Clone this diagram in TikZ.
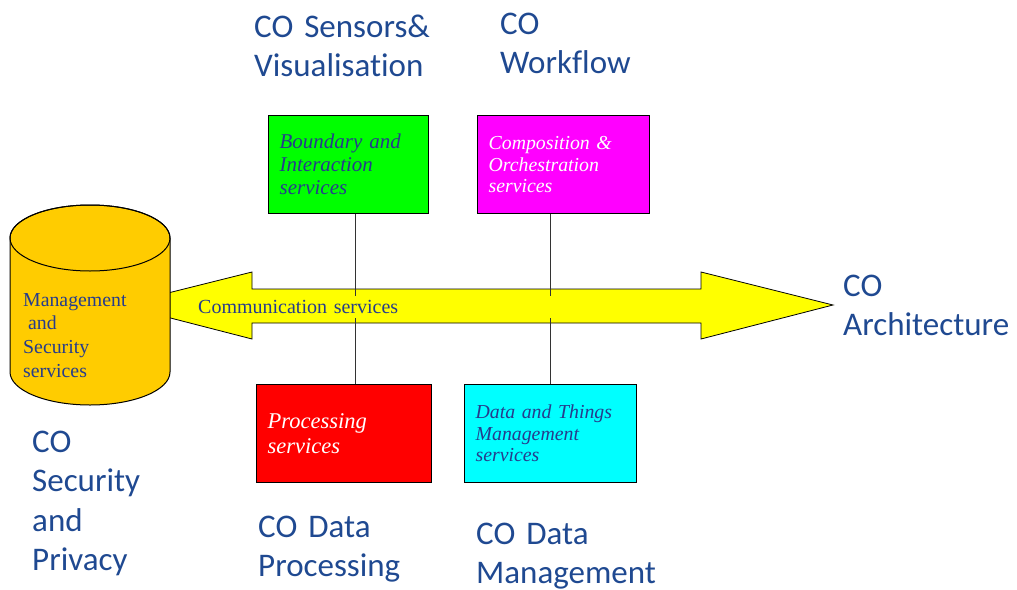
\documentclass[tikz,border=0pt]{standalone}
\usepackage{fontspec}
\setmainfont{Liberation Serif}
\newfontfamily\labelfont[Ligatures={NoCommon}, WordSpace=0.7]{Carlito}
\definecolor{labelblue}{RGB}{31,73,145}
\definecolor{inkblue}{RGB}{38,60,140}
\definecolor{goldfill}{RGB}{255,204,0}
\definecolor{arrowyellow}{RGB}{255,255,0}
\definecolor{boxgreen}{RGB}{0,255,0}
\definecolor{boxmagenta}{RGB}{255,0,255}
\definecolor{boxred}{RGB}{255,0,0}
\definecolor{boxcyan}{RGB}{0,255,255}
\begin{document}
\begin{tikzpicture}[x=1pt,y=-1pt,
  svcbox/.style={draw=black, line width=1.3pt, inner xsep=11pt, inner ysep=0pt,
    minimum height=98pt, align=left, anchor=north west},
  title/.style={anchor=base west, inner sep=0pt, text width=300pt, align=left,
    text=labelblue, font=\labelfont\fontsize{33}{39.5}\selectfont},
  link/.style={draw=black!80, line width=1.1pt}]
\useasboundingbox (0,0) rectangle (1017,589);

% communication bus: double-headed arrow
\draw[fill=arrowyellow, line width=0.8pt, line join=miter]
  (120,305) -- (252,272) -- (252,289) -- (701,289) -- (701,272) -- (833,305)
  -- (701,339) -- (701,323) -- (252,323) -- (252,339) -- cycle;

% service boxes
\node[svcbox, fill=boxgreen, text=inkblue, text width=138pt,
  font=\itshape\fontsize{21}{23}\selectfont] (bound) at (268,115)
  {Boundary and\\Interaction\\services};
\node[svcbox, fill=boxmagenta, text=white, text width=150pt,
  font=\itshape\fontsize{19.8}{21.5}\selectfont] (compo) at (477,115)
  {Composition \&\\Orchestration\\services};
\node[svcbox, fill=boxred, text=white, text width=153pt,
  font=\itshape\fontsize{22.5}{25}\selectfont] (proc) at (256,384)
  {Processing\\services};
\node[svcbox, fill=boxcyan, text=inkblue, text width=150pt,
  font=\itshape\fontsize{19.8}{21.5}\selectfont] (data) at (464,384)
  {Data and Things\\Management\\services};

% vertical links through the bus
\draw[link] ([xshift=7pt]bound.south) -- ([xshift=7pt]bound.south |- proc.north);
\draw[link] (data.north) -- (data.north |- compo.south);

% bus label on its own yellow band
\node[fill=arrowyellow, inner sep=0pt, minimum height=22pt, text width=360pt,
  align=left, text=inkblue, font=\fontsize{20}{24}\selectfont, anchor=west]
  (comm) at (198,307) {Communication services};

% management and security store (cylinder)
\draw[fill=goldfill, line width=1pt]
  (10,238) -- (10,372) arc[start angle=180, end angle=0, x radius=80, y radius=33]
  -- (170,238) arc[start angle=0, end angle=-180, x radius=80, y radius=33] -- cycle;
\draw[line width=1pt] (90,238) ellipse [x radius=80, y radius=33];
\node[anchor=base west, inner sep=0pt, text width=140pt, align=left, text=inkblue,
  font=\fontsize{19.8}{23.7}\selectfont] (mgmtsec) at (23,306)
  {Management\\\hspace*{5pt}and\\Security\\services};

% area titles
\node[title] (lsens) at (254,37) {CO Sensors\&\\Visualisation};
\node[title] (lwork) at (500,34) {CO\\Workflow};
\node[title] (larch) at (843,296) {CO\\Architecture};
\node[title] (lsec) at (32,452) {CO\\Security\\and\\Privacy};
\node[title] (lproc) at (258,537) {CO Data\\Processing};
\node[title] (lmgmt) at (476,544) {CO Data\\Management};
\end{tikzpicture}
\end{document}
